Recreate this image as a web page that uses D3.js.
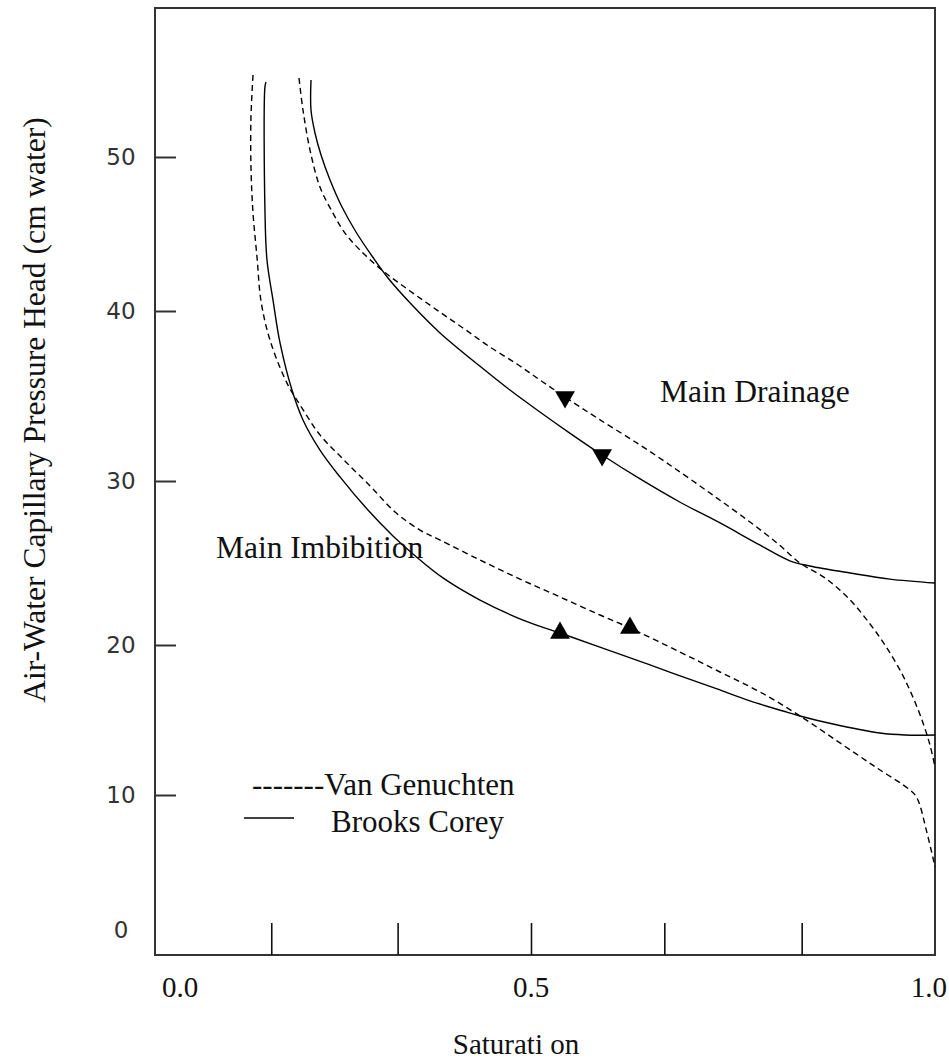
<!DOCTYPE html>
<html>
<head>
<meta charset="utf-8">
<script src="https://cdn.jsdelivr.net/npm/d3@7"></script>
<style>
  html, body { margin: 0; padding: 0; background: #fff; }
  svg { display: block; }
  .serif { font-family: "Liberation Serif", "Times New Roman", serif; fill: #111; }
  .sans { font-family: "DejaVu Sans", Verdana, sans-serif; fill: #333; }
</style>
</head>
<body>
<svg id="chart" width="949" height="1063"></svg>
<script>
// Saturation tick marks (unlabelled) and labelled saturation values
const xTickValues = [0.13, 0.31, 0.5, 0.665, 0.835];
const xLabelValues = [0.0, 0.5, 1.0];
const yTickValues = [10, 20, 30, 40, 50];
const yLabelValues = [0, 10, 20, 30, 40, 50];

// Curves: [saturation, capillary pressure head (cm water)]
const drainageBrooksCorey = [
  [0.1866, 55.0], [0.1866, 53.05], [0.1923, 51.56], [0.2009, 50.13], [0.2137, 48.51],
  [0.2308, 46.75], [0.2507, 45.13], [0.2735, 43.57], [0.2963, 42.14], [0.3319, 40.32],
  [0.3704, 38.71], [0.427, 36.76], [0.470, 35.35], [0.511, 34.06], [0.548, 32.82],
  [0.588, 31.53], [0.635, 30.12], [0.684, 28.72], [0.734, 27.44], [0.783, 26.1],
  [0.821, 25.12], [0.845, 24.82], [0.895, 24.39], [0.944, 24.02], [1.0, 23.78]
];
const drainageVanGenuchten = [
  [0.1695, 55.13], [0.1752, 53.05], [0.1852, 50.45], [0.1994, 48.05], [0.2179, 46.36],
  [0.235, 45.06], [0.2564, 43.96], [0.2892, 42.6], [0.3276, 41.3], [0.3661, 40.06],
  [0.4031, 39.0], [0.4416, 37.88], [0.4801, 36.88], [0.5111, 35.94], [0.5421, 34.94],
  [0.5817, 33.71], [0.6349, 32.12], [0.6844, 30.53], [0.7302, 28.96], [0.771, 27.5],
  [0.8045, 26.22], [0.8329, 25.0], [0.8639, 24.09], [0.895, 22.74], [0.9196, 21.28],
  [0.9381, 20.0], [0.9567, 18.33], [0.9715, 16.67], [0.9839, 15.0], [0.9938, 13.33],
  [1.0, 11.87]
];
const imbibitionBrooksCorey = [
  [0.1225, 54.87], [0.121, 54.55], [0.121, 46.56], [0.1239, 43.31], [0.1325, 40.71],
  [0.1425, 38.12], [0.1595, 35.35], [0.1752, 33.59], [0.1994, 31.82], [0.2279, 30.24],
  [0.2664, 28.29], [0.3034, 26.65], [0.3319, 25.55], [0.3746, 24.09], [0.4274, 22.74],
  [0.4886, 21.52], [0.5359, 20.73], [0.5817, 19.93], [0.6473, 18.67], [0.6881, 17.87],
  [0.7302, 17.07], [0.771, 16.27], [0.8119, 15.6], [0.8329, 15.27], [0.8738, 14.73],
  [0.9319, 14.13], [0.9629, 14.0], [1.0, 14.0]
];
const imbibitionVanGenuchten = [
  [0.104, 55.32], [0.1011, 52.6], [0.1011, 49.35], [0.104, 46.36], [0.1097, 43.5],
  [0.1154, 40.65], [0.1282, 38.29], [0.1524, 35.76], [0.1738, 34.29], [0.1994, 32.71],
  [0.2322, 31.29], [0.2707, 29.7], [0.3063, 28.11], [0.3419, 27.01], [0.3704, 26.4],
  [0.4274, 25.18], [0.4843, 24.02], [0.5359, 22.93], [0.5854, 21.83], [0.6225, 21.04],
  [0.6844, 19.53], [0.7339, 18.2], [0.7834, 16.87], [0.8329, 15.27], [0.8824, 13.47],
  [0.9282, 11.8], [0.9691, 10.33], [0.9777, 9.78], [0.9901, 7.19], [1.0, 4.67]
];

// Direction arrows on the curves
const drainageArrows = [[0.5421, 34.94], [0.588, 31.53]];
const imbibitionArrows = [[0.5359, 20.73], [0.6225, 21.04]];

const svg = d3.select("#chart");
const margin = { top: 8, right: 14, bottom: 108, left: 155 };
const W = 949 - margin.left - margin.right;
const H = 1063 - margin.top - margin.bottom;

const g = svg.append("g").attr("transform", `translate(${margin.left},${margin.top})`);

// Piecewise scales follow the spacing of the original axis graduations
const x = d3.scaleLinear().domain([0, 0.5, 1.0]).range([25, 376, W]);
const y = d3.scaleLinear().domain([0, 10, 20, 30, 40, 50]).range([922, 787, 637, 473, 303, 149]);

// Frame
g.append("rect")
  .attr("x", 0).attr("y", 0).attr("width", W).attr("height", H)
  .attr("fill", "none").attr("stroke", "#333").attr("stroke-width", 2);

// Inward ticks on the bottom axis
const xAxis = d3.axisBottom(x).tickValues(xTickValues).tickSize(-32).tickFormat("");
const gx = g.append("g").attr("transform", `translate(0,${H})`).call(xAxis);
gx.select(".domain").remove();
gx.selectAll(".tick line").attr("stroke", "#111").attr("stroke-width", 1.6);

// Inward ticks on the left axis
const yAxis = d3.axisLeft(y).tickValues(yTickValues).tickSize(-21).tickFormat("");
const gy = g.append("g").call(yAxis);
gy.select(".domain").remove();
gy.selectAll(".tick line").attr("stroke", "#333").attr("stroke-width", 2);

// Tick labels
g.selectAll(".xlab").data(xLabelValues).enter().append("text")
  .attr("class", "serif xlab")
  .attr("x", d => d === 1 ? x(d) + 12 : x(d))
  .attr("y", H + 42)
  .attr("text-anchor", d => d === 1 ? "end" : "middle")
  .attr("font-size", 29)
  .text(d => d.toFixed(1));

g.selectAll(".ylab").data(yLabelValues).enter().append("text")
  .attr("class", "sans ylab")
  .attr("x", -34)
  .attr("y", d => y(d))
  .attr("dy", "0.36em")
  .attr("text-anchor", "middle")
  .attr("font-size", 23)
  .text(d => d);

// Axis titles
svg.append("text")
  .attr("class", "serif")
  .attr("x", margin.left + x(0.5) - 15)
  .attr("y", 1054)
  .attr("text-anchor", "middle")
  .attr("font-size", 29)
  .text("Saturati on");

svg.append("text")
  .attr("class", "serif")
  .attr("transform", "translate(45,410) rotate(-90)")
  .attr("text-anchor", "middle")
  .attr("font-size", 31.5)
  .text("Air-Water Capillary Pressure Head (cm water)");

// Curves
const line = d3.line()
  .x(d => x(d[0]))
  .y(d => y(d[1]))
  .curve(d3.curveCatmullRom.alpha(0.5));

const curves = [
  { data: drainageBrooksCorey, dash: null },
  { data: drainageVanGenuchten, dash: "6,4" },
  { data: imbibitionBrooksCorey, dash: null },
  { data: imbibitionVanGenuchten, dash: "6,4" }
];

g.selectAll(".curve").data(curves).enter().append("path")
  .attr("class", "curve")
  .attr("d", d => line(d.data))
  .attr("fill", "none")
  .attr("stroke", "#000")
  .attr("stroke-width", 1.4)
  .attr("stroke-dasharray", d => d.dash);

// Arrow markers
const tri = d3.symbol().type(d3.symbolTriangle).size(170);
g.selectAll(".down").data(drainageArrows).enter().append("path")
  .attr("d", tri)
  .attr("transform", d => `translate(${x(d[0])},${y(d[1])}) rotate(180)`)
  .attr("fill", "#000");
g.selectAll(".up").data(imbibitionArrows).enter().append("path")
  .attr("d", tri)
  .attr("transform", d => `translate(${x(d[0])},${y(d[1])})`)
  .attr("fill", "#000");

// Curve annotations
svg.append("text").attr("class", "serif")
  .attr("x", 660).attr("y", 402).attr("font-size", 31.5)
  .text("Main Drainage");
svg.append("text").attr("class", "serif")
  .attr("x", 216).attr("y", 558).attr("font-size", 31.5)
  .text("Main Imbibition");

// Legend
svg.append("text").attr("class", "serif")
  .attr("x", 252).attr("y", 795).attr("font-size", 31)
  .text("-------Van Genuchten");
svg.append("line")
  .attr("x1", 244).attr("x2", 294).attr("y1", 818).attr("y2", 818)
  .attr("stroke", "#000").attr("stroke-width", 1.6);
svg.append("text").attr("class", "serif")
  .attr("x", 331).attr("y", 832).attr("font-size", 31)
  .text("Brooks Corey");
</script>
</body>
</html>
